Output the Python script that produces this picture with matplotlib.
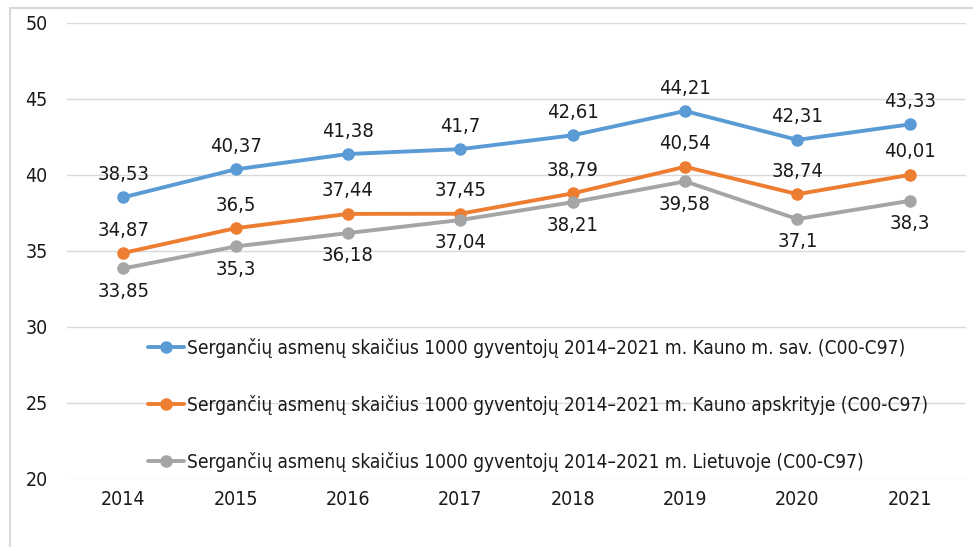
import matplotlib.pyplot as plt
from matplotlib.patches import Rectangle

years = ["2014", "2015", "2016", "2017", "2018", "2019", "2020", "2021"]
kaunas_city = [38.53, 40.37, 41.38, 41.70, 42.61, 44.21, 42.31, 43.33]
kaunas_county = [34.87, 36.50, 37.44, 37.45, 38.79, 40.54, 38.74, 40.01]
lithuania = [33.85, 35.30, 36.18, 37.04, 38.21, 39.58, 37.10, 38.30]

series_labels = [
    "Sergančių asmenų skaičius 1000 gyventojų 2014–2021 m. Kauno m. sav. (C00-C97)",
    "Sergančių asmenų skaičius 1000 gyventojų 2014–2021 m. Kauno apskrityje (C00-C97)",
    "Sergančių asmenų skaičius 1000 gyventojų 2014–2021 m. Lietuvoje (C00-C97)",
]
value_texts = [
    ["38,53", "40,37", "41,38", "41,7", "42,61", "44,21", "42,31", "43,33"],
    ["34,87", "36,5", "37,44", "37,45", "38,79", "40,54", "38,74", "40,01"],
    ["33,85", "35,3", "36,18", "37,04", "38,21", "39,58", "37,1", "38,3"],
]

colors = ["#5B9BD5", "#ED7D31", "#A5A5A5"]
# label above (+) or below (-) the point
label_dir = [1, 1, -1]

plt.rcParams["font.family"] = ["DejaVu Sans"]
plt.rcParams["font.stretch"] = "condensed"

fig = plt.figure(figsize=(9.73, 5.47), dpi=100)
fig.patches.append(Rectangle((10 / 973, -0.05), 1.0, 1 - 8 / 547 + 0.05,
                             transform=fig.transFigure, fill=False,
                             edgecolor="#D9D9D9", linewidth=1.5))
ax = fig.add_axes([67 / 973, 1 - 479 / 547, 899 / 973, 456 / 547])

x = list(range(len(years)))
for vals, texts, col, lab, d in zip([kaunas_city, kaunas_county, lithuania],
                                    value_texts, colors, series_labels, label_dir):
    ax.plot(x, vals, color=col, linewidth=2.8, marker="o", markersize=8,
            label=lab, solid_capstyle="round")
    for xi, v, t in zip(x, vals, texts):
        ax.annotate(t, (xi, v), xytext=(0, 16.5 * d), textcoords="offset points",
                    ha="center", va="center", fontsize=14.5, color="#1a1a1a")

ax.set_xlim(-0.5, len(years) - 0.5)
ax.set_ylim(20, 50)
ax.set_yticks(range(20, 51, 5))
ax.set_xticks(x)
ax.set_xticklabels(years)
ax.tick_params(axis="both", length=0, labelsize=14, colors="#1a1a1a")
ax.tick_params(axis="y", pad=14)
ax.tick_params(axis="x", pad=8)
ax.grid(axis="y", color="#D9D9D9", linewidth=1)
ax.set_axisbelow(True)
for s in ax.spines.values():
    s.set_visible(False)

leg = ax.legend(loc="upper left", bbox_to_anchor=(0.09, 0.31), frameon=False,
                fontsize=13.7, handlelength=1.9, handletextpad=0.15,
                labelspacing=1.95, borderaxespad=0, borderpad=0)
for t in leg.get_texts():
    t.set_color("#1a1a1a")

fig.savefig("out.png", dpi=100)
